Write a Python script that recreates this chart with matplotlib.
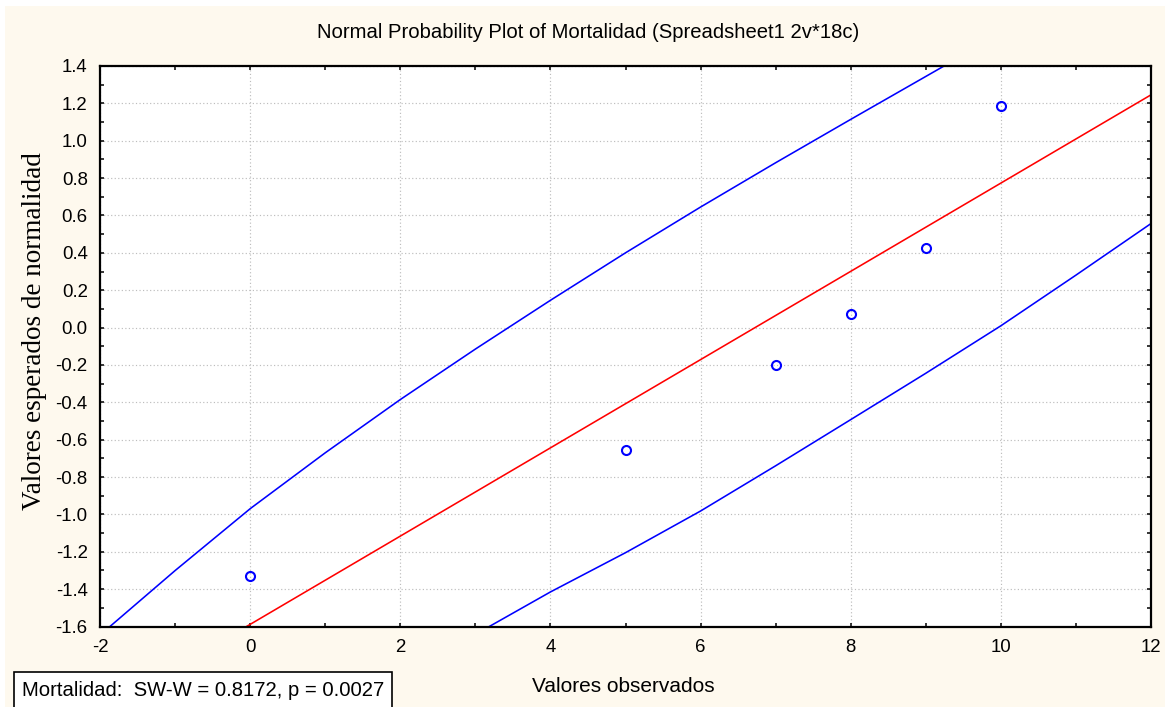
import matplotlib
matplotlib.use("Agg")
import matplotlib.pyplot as plt
from matplotlib.patches import Rectangle
from matplotlib.ticker import MultipleLocator, FormatStrFormatter

# Observed values and their expected normal scores
observed = [0, 5, 7, 8, 9, 10]
expected = [-1.33, -0.655, -0.20, 0.071, 0.427, 1.186]

# Reference line of the normal distribution
ref_x = [-0.05, 12.0]
ref_y = [-1.60, 1.245]

# Upper and lower confidence bands
upper_x = [-1.87, -1.0, 0.0, 1.0, 2.0, 3.0, 4.0, 5.0, 6.0, 7.0, 8.0, 9.245]
upper_y = [-1.60, -1.30, -0.969, -0.67, -0.385, -0.115, 0.146, 0.40, 0.645, 0.882, 1.114, 1.40]
lower_x = [3.185, 4.0, 5.0, 6.0, 7.0, 8.0, 9.0, 10.0, 11.0, 12.0]
lower_y = [-1.60, -1.415, -1.205, -0.982, -0.74, -0.493, -0.245, 0.009, 0.28, 0.556]

title = "Normal Probability Plot of Mortalidad (Spreadsheet1 2v*18c)"
xlabel = "Valores observados"
ylabel = "Valores esperados de normalidad"
stat_text = "Mortalidad:  SW-W = 0.8172, p = 0.0027"

cream = "#fef9ee"
sans = "Liberation Sans"
serif = "Liberation Serif"

fig = plt.figure(figsize=(11.71, 7.07), dpi=100)
fig.patch.set_facecolor("white")
# cream panel behind the plot
fig.patches.append(Rectangle((5 / 1171, 0), (1165 - 5) / 1171, (707 - 6) / 707,
                             transform=fig.transFigure, facecolor=cream,
                             edgecolor="none", zorder=-10))

ax = fig.add_axes([100.2 / 1171, 1 - 626.5 / 707, (1150.8 - 100.2) / 1171, (626.5 - 66) / 707])
ax.set_facecolor("white")

ax.plot(upper_x, upper_y, color="#0000ff", lw=1.15, zorder=3)
ax.plot(lower_x, lower_y, color="#0000ff", lw=1.15, zorder=3)
ax.plot(ref_x, ref_y, color="#ff0000", lw=1.15, zorder=3)
ax.plot(observed, expected, linestyle="none", marker="o", markersize=6.5,
        markerfacecolor="none", markeredgecolor="#0000ff", markeredgewidth=1.5,
        zorder=4, clip_on=False)

ax.set_xlim(-2, 12)
ax.set_ylim(-1.6, 1.4)
ax.xaxis.set_major_locator(MultipleLocator(2))
ax.xaxis.set_minor_locator(MultipleLocator(1))
ax.yaxis.set_major_locator(MultipleLocator(0.2))
ax.yaxis.set_minor_locator(MultipleLocator(0.1))
ax.xaxis.set_major_formatter(FormatStrFormatter("%d"))
ax.yaxis.set_major_formatter(FormatStrFormatter("%.1f"))

ax.grid(True, which="major", color="#bdbdbd", linestyle=(0, (1, 2)), lw=0.85, zorder=1)
ax.tick_params(which="both", direction="in", top=True, right=True,
               length=3, width=1.1, color="black")
ax.tick_params(which="major", labelsize=13.4, pad=9)
for lab in ax.get_xticklabels() + ax.get_yticklabels():
    lab.set_family(sans)
for sp in ax.spines.values():
    sp.set_linewidth(1.6)
    sp.set_color("black")
    sp.set_zorder(5)

fig.text(588 / 1171, 1 - 32 / 707, title, ha="center", va="center",
         fontsize=14.6, family=sans)
fig.text(623 / 1171, 1 - 686 / 707, xlabel, ha="center", va="center",
         fontsize=15, family=sans)
fig.text(35 / 1171, 1 - 331 / 707, ylabel, ha="center", va="center",
         rotation=90, fontsize=19.5, family=serif)

fig.text(203 / 1171, 1 - 690 / 707, stat_text, ha="center", va="center",
         fontsize=14.6, family=sans,
         bbox=dict(boxstyle="square,pad=0.4", facecolor="white",
                   edgecolor="black", linewidth=1.2))

fig.savefig("out.png", dpi=100, facecolor=fig.get_facecolor())
